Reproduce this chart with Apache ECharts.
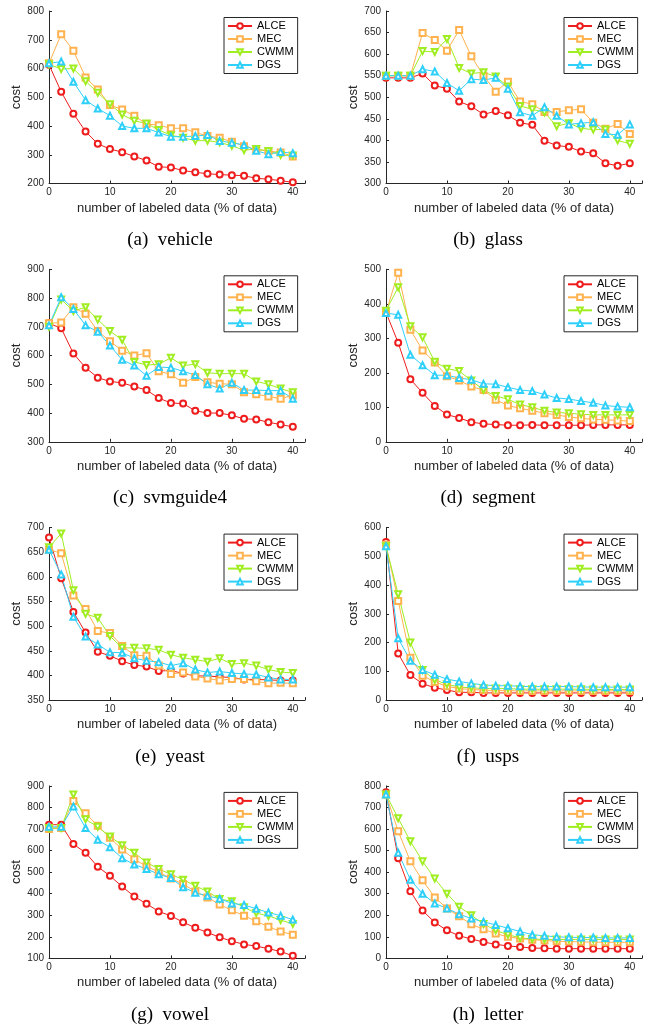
<!DOCTYPE html>
<html>
<head>
<meta charset="utf-8">
<script src="https://cdn.jsdelivr.net/npm/echarts@6/dist/echarts.min.js"></script>
<style>
  html, body { margin: 0; padding: 0; background: #fff; }
  #main { width: 652px; height: 1028px; }
</style>
</head>
<body>
<div id="main"></div>
<script>
// x positions: % of labeled data
const xs = [0, 2, 4, 6, 8, 10, 12, 14, 16, 18, 20, 22, 24, 26, 28, 30, 32, 34, 36, 38, 40];
const methods = ['ALCE', 'MEC', 'CWMM', 'DGS'];

// (a) vehicle
const vehicleALCE = [613, 519, 443, 381, 338, 320, 309, 294, 280, 258, 256, 245, 239, 234, 231, 229, 227, 218, 215, 210, 204];
const vehicleMEC  = [618, 719, 662, 569, 527, 473, 457, 436, 407, 403, 392, 392, 378, 365, 359, 345, 330, 318, 313, 308, 294];
const vehicleCWMM = [615, 598, 600, 556, 516, 476, 440, 418, 409, 386, 368, 359, 349, 349, 343, 331, 316, 320, 313, 299, 297];
const vehicleDGS  = [618, 624, 554, 490, 461, 436, 400, 392, 392, 377, 363, 363, 365, 369, 348, 342, 334, 314, 302, 310, 305];

// (b) glass
const glassALCE = [545, 545, 545, 555, 527, 520, 490, 479, 460, 468, 458, 441, 436, 399, 388, 385, 374, 370, 347, 341, 347];
const glassMEC  = [550, 550, 550, 649, 633, 608, 656, 595, 550, 513, 536, 490, 484, 466, 466, 470, 472, 441, 427, 438, 415];
const glassCWMM = [550, 550, 550, 607, 605, 635, 568, 555, 558, 548, 525, 480, 472, 465, 433, 440, 428, 425, 425, 400, 392];
const glassDGS  = [550, 550, 550, 565, 560, 533, 515, 542, 540, 545, 520, 465, 457, 477, 457, 437, 440, 442, 415, 413, 437];

// (c) svmguide4
const svmALCE = [712, 695, 607, 558, 523, 510, 505, 492, 480, 452, 435, 433, 408, 400, 400, 392, 380, 378, 368, 360, 352];
const svmMEC  = [712, 715, 768, 745, 685, 650, 617, 600, 608, 545, 535, 505, 525, 507, 502, 500, 472, 465, 458, 450, 462];
const svmCWMM = [700, 795, 755, 768, 725, 685, 655, 578, 567, 570, 592, 565, 570, 540, 537, 537, 537, 510, 500, 485, 472];
const svmDGS  = [705, 803, 762, 705, 683, 635, 585, 565, 530, 560, 558, 545, 532, 500, 485, 505, 480, 480, 478, 478, 450];

// (d) segment
const segmentALCE = [375, 287, 181, 142, 104, 79, 69, 57, 52, 50, 48, 48, 49, 48, 48, 48, 48, 49, 49, 49, 49];
const segmentMEC  = [375, 490, 325, 265, 230, 190, 178, 160, 150, 122, 105, 97, 90, 83, 78, 72, 68, 65, 64, 62, 60];
const segmentCWMM = [380, 448, 335, 303, 232, 212, 205, 178, 150, 133, 123, 108, 100, 90, 85, 83, 80, 78, 78, 78, 78];
const segmentDGS  = [373, 368, 252, 222, 193, 193, 185, 180, 168, 167, 158, 150, 147, 137, 127, 124, 118, 113, 105, 102, 100];

// (e) yeast
const yeastALCE = [680, 597, 529, 487, 448, 440, 429, 421, 418, 409, 410, 404, 399, 399, 397, 396, 392, 392, 391, 390, 390];
const yeastMEC  = [655, 648, 562, 535, 490, 486, 460, 441, 440, 420, 403, 406, 398, 394, 390, 393, 393, 388, 384, 385, 384];
const yeastCWMM = [660, 688, 573, 525, 517, 480, 456, 456, 455, 452, 442, 436, 432, 428, 435, 423, 425, 420, 412, 407, 405];
const yeastDGS  = [655, 605, 519, 479, 463, 447, 446, 435, 430, 427, 420, 425, 412, 406, 408, 405, 403, 402, 396, 392, 392];

// (f) usps
const uspsALCE = [550, 162, 87, 57, 43, 35, 27, 27, 25, 25, 25, 25, 25, 25, 25, 25, 25, 25, 25, 25, 25];
const uspsMEC  = [540, 345, 147, 85, 63, 48, 40, 37, 35, 33, 33, 32, 32, 32, 32, 32, 32, 32, 32, 32, 32];
const uspsCWMM = [535, 368, 200, 105, 70, 55, 45, 43, 40, 40, 40, 38, 38, 38, 38, 38, 38, 37, 37, 37, 37];
const uspsDGS  = [535, 215, 137, 105, 88, 73, 65, 58, 53, 50, 50, 48, 47, 47, 47, 47, 46, 45, 45, 45, 45];

// (g) vowel
const vowelALCE = [720, 720, 630, 590, 525, 483, 433, 387, 353, 318, 297, 268, 242, 220, 198, 180, 165, 157, 145, 132, 112];
const vowelMEC  = [700, 705, 830, 773, 715, 660, 605, 560, 527, 500, 470, 445, 410, 383, 350, 323, 298, 272, 247, 225, 210];
const vowelCWMM = [705, 705, 860, 745, 710, 665, 625, 590, 545, 515, 490, 465, 437, 410, 375, 365, 337, 310, 297, 278, 260];
const vowelDGS  = [710, 710, 805, 705, 650, 615, 565, 535, 515, 490, 473, 430, 405, 390, 377, 355, 348, 330, 313, 298, 280];

// (h) letter
const letterALCE = [770, 465, 312, 222, 167, 130, 105, 90, 76, 65, 58, 53, 48, 47, 45, 45, 45, 45, 45, 45, 45];
const letterMEC  = [760, 590, 450, 362, 283, 232, 195, 158, 135, 115, 100, 92, 87, 83, 80, 78, 77, 75, 75, 75, 75];
const letterCWMM = [760, 650, 543, 450, 370, 300, 240, 200, 160, 130, 110, 95, 90, 88, 88, 88, 88, 88, 88, 88, 88];
const letterDGS  = [760, 490, 365, 300, 255, 232, 205, 185, 170, 155, 140, 125, 110, 105, 100, 98, 97, 97, 95, 95, 95];

const panels = [
  { cap: '(a)', name: 'vehicle',   ymin: 200, ymax: 800, step: 100, lines: [vehicleALCE, vehicleMEC, vehicleCWMM, vehicleDGS] },
  { cap: '(b)', name: 'glass',     ymin: 300, ymax: 700, step: 50,  lines: [glassALCE, glassMEC, glassCWMM, glassDGS] },
  { cap: '(c)', name: 'svmguide4', ymin: 300, ymax: 900, step: 100, lines: [svmALCE, svmMEC, svmCWMM, svmDGS] },
  { cap: '(d)', name: 'segment',   ymin: 0,   ymax: 500, step: 100, lines: [segmentALCE, segmentMEC, segmentCWMM, segmentDGS] },
  { cap: '(e)', name: 'yeast',     ymin: 350, ymax: 700, step: 50,  lines: [yeastALCE, yeastMEC, yeastCWMM, yeastDGS] },
  { cap: '(f)', name: 'usps',      ymin: 0,   ymax: 600, step: 100, lines: [uspsALCE, uspsMEC, uspsCWMM, uspsDGS] },
  { cap: '(g)', name: 'vowel',     ymin: 100, ymax: 900, step: 100, lines: [vowelALCE, vowelMEC, vowelCWMM, vowelDGS] },
  { cap: '(h)', name: 'letter',    ymin: 0,   ymax: 800, step: 100, lines: [letterALCE, letterMEC, letterCWMM, letterDGS] }
];

const colors = ['#ee1c1c', '#ffb24d', '#a0ee22', '#2ed0fa'];
const symbols = ['emptyCircle', 'emptyRect', 'emptyTriangle', 'emptyTriangle'];
const rotates = [0, 0, 180, 0];
const ink = '#262626';
const sans = '"Liberation Sans", Arial, sans-serif';

const grid = [], xAxis = [], yAxis = [], series = [], legend = [], graphic = [];

panels.forEach((p, i) => {
  const col = i % 2, row = Math.floor(i / 2);
  const left = col ? 386 : 49;
  const top = 11 + row * 258.3;
  grid.push({ left: left, top: top, width: 256, height: 172.5 });
  xAxis.push({
    gridIndex: i, type: 'value', min: 0, max: 42, interval: 10,
    name: 'number of labeled data (% of data)', nameLocation: 'middle', nameGap: 18,
    nameTextStyle: { fontSize: 13, fontFamily: sans, color: ink },
    axisLine: { lineStyle: { color: ink, width: 1 } },
    axisTick: { inside: true, length: 3, lineStyle: { color: ink } },
    axisLabel: { fontSize: 10, fontFamily: sans, color: ink, margin: 4,
      formatter: v => (v % 10 === 0 ? v : '') },
    splitLine: { show: false }
  });
  yAxis.push({
    gridIndex: i, type: 'value', min: p.ymin, max: p.ymax, interval: p.step,
    name: 'cost', nameLocation: 'middle', nameGap: 20,
    nameTextStyle: { fontSize: 13, fontFamily: sans, color: ink },
    axisLine: { show: true, lineStyle: { color: ink, width: 1 } },
    axisTick: { show: true, inside: true, length: 3, lineStyle: { color: ink } },
    axisLabel: { fontSize: 10, fontFamily: sans, color: ink, margin: 5 },
    splitLine: { show: false }
  });
  methods.forEach((m, k) => {
    series.push({
      name: m, type: 'line', xAxisIndex: i, yAxisIndex: i,
      data: xs.map((x, j) => [x, p.lines[k][j]]),
      color: colors[k],
      symbol: symbols[k], symbolRotate: rotates[k], symbolSize: 6,
      lineStyle: { width: 1, color: colors[k] },
      itemStyle: { borderWidth: 1 },
      animation: false
    });
  });
  legend.push({
    left: col ? 564 : 224, top: top + 6.5, orient: 'vertical',
    data: methods, itemWidth: 24, itemHeight: 7, itemGap: 2,
    textStyle: { fontSize: 11, fontFamily: sans, color: '#000' },
    borderColor: ink, borderWidth: 1, borderRadius: 0, padding: [3, 4, 3, 3],
    backgroundColor: '#fff', selectedMode: false
  });
  graphic.push({
    type: 'text', x: col ? 488 : 170, y: top + 229,
    style: {
      text: p.cap + '  ' + p.name, textAlign: 'center', textVerticalAlign: 'middle',
      font: '19px "Liberation Serif", "Times New Roman", serif', fill: '#000'
    }
  });
});

const chart = echarts.init(document.getElementById('main'), null, { renderer: 'canvas' });
chart.setOption({
  animation: false,
  backgroundColor: '#fff',
  grid, xAxis, yAxis, series, legend, graphic
});
</script>
</body>
</html>
